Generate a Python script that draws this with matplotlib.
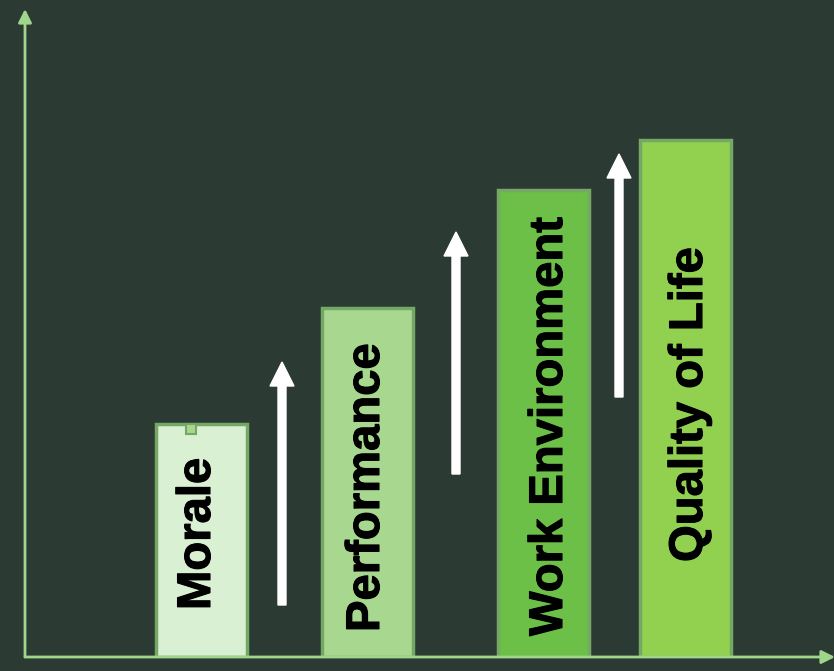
import matplotlib.pyplot as plt
import matplotlib.patheffects as pe
from matplotlib.patches import FancyArrow

# values (pixel units above the baseline)
labels = ["Morale", "Performance", "Work Environment", "Quality of Life"]
heights = [233, 349, 467, 517]
positions = [176.5, 342.5, 518.5, 660.5]
fills = ["#d9f0d3", "#a8d88f", "#6cbf47", "#92d050"]
text_bottom = [47, 25, 21, 95]
text_x = [173, 342, 525, 665]

# white arrows between the bars
arrow_x = [257, 431, 594]
arrow_start = [52, 183, 260]
arrow_end = [295, 425, 503]

bg = "#2b3a33"
axis_col = "#9fd68b"

fig = plt.figure(figsize=(8.34, 6.71), dpi=100, facecolor=bg)
ax = fig.add_axes([25 / 834, 14 / 671, 809 / 834, 645 / 671])
ax.set_facecolor(bg)
ax.set_xlim(0, 809)
ax.set_ylim(0, 645)
for s in ax.spines.values():
    s.set_visible(False)
ax.set_xticks([])
ax.set_yticks([])

ax.bar(positions, heights, width=91, color=fills, edgecolor="#76a865",
       linewidth=2.5, zorder=2)

for x, y0, lab in zip(text_x, text_bottom, labels):
    ax.text(x, y0, lab, rotation=90, ha="center", va="bottom",
            fontsize=34, fontweight="bold", family="Liberation Sans",
            color="black", zorder=3,
            path_effects=[pe.withStroke(linewidth=0.8, foreground="black")])

# little square on top of the Morale bar
ax.plot(positions[0] - 10, heights[0] - 5, marker="s", ms=7,
        mfc="#a8d88f", mec="#76a865", mew=1.5, zorder=4, clip_on=False)

for x, a, b in zip(arrow_x, arrow_start, arrow_end):
    ax.add_patch(FancyArrow(x, a, 0, b - a, width=8, head_width=24,
                            head_length=24, length_includes_head=True,
                            color="white", zorder=3))

# axes drawn as arrows
ax.annotate("", xy=(0, 648), xytext=(0, 0),
            arrowprops=dict(arrowstyle="-|>,head_width=0.4,head_length=0.8",
                            color=axis_col, lw=2, shrinkA=0, shrinkB=0),
            annotation_clip=False)
ax.annotate("", xy=(810, 0), xytext=(0, 0),
            arrowprops=dict(arrowstyle="-|>,head_width=0.4,head_length=0.8",
                            color=axis_col, lw=2, shrinkA=0, shrinkB=0),
            annotation_clip=False)

fig.savefig("out.png", dpi=100, facecolor=bg)
